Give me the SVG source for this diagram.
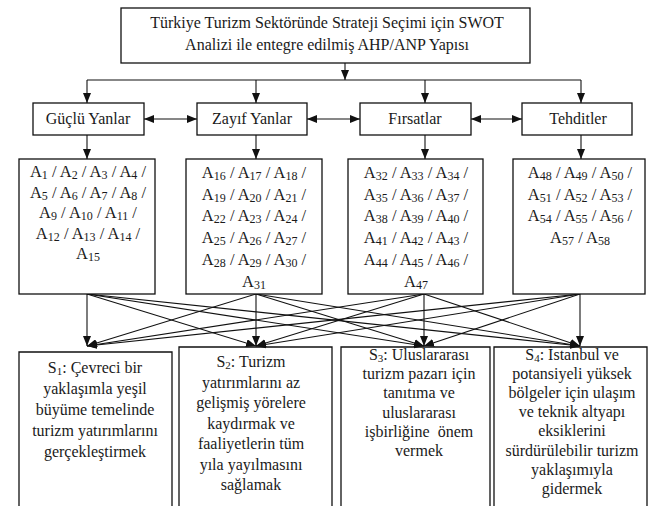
<svg xmlns="http://www.w3.org/2000/svg" width="649" height="506" viewBox="0 0 649 506">
<defs>
<style>
.box{fill:#fff;stroke:#111;stroke-width:1.3}
.open{fill:none;stroke:#111;stroke-width:1.3}
text{font-family:"Liberation Serif","Times New Roman",serif;font-size:16px;fill:#1a1a1a;text-anchor:middle}
text.a{font-size:16.5px}
.s{font-size:11px;baseline-shift:-2px}
text.a .s{font-size:12px}
.c{fill:none;stroke:#111;stroke-width:1.1;marker-end:url(#ah)}
.d{fill:none;stroke:#111;stroke-width:1.1;marker-end:url(#ah);marker-start:url(#ah)}
</style>
<marker id="ah" viewBox="0 0 10 8" refX="10" refY="4" markerWidth="10" markerHeight="8" markerUnits="userSpaceOnUse" orient="auto-start-reverse">
<path d="M0,0 L10,4 L0,8 z" fill="#111"/>
</marker>
</defs>
<rect width="649" height="506" fill="#fff"/>

<g id="connectors">
<line class="c" x1="345" y1="63" x2="345" y2="80"/>
<polyline fill="none" stroke="#111" stroke-width="1.1" points="87,80 581,80"/>
<line class="c" x1="87" y1="80" x2="87" y2="103"/>
<line class="c" x1="256" y1="80" x2="256" y2="103"/>
<line class="c" x1="425" y1="80" x2="425" y2="103"/>
<line class="c" x1="581" y1="80" x2="581" y2="103"/>
<line class="d" x1="144" y1="119" x2="197" y2="119"/>
<line class="d" x1="307" y1="119" x2="360" y2="119"/>
<line class="d" x1="471" y1="119" x2="522" y2="119"/>
<line class="c" x1="87" y1="135" x2="87" y2="159"/>
<line class="c" x1="256" y1="135" x2="256" y2="159"/>
<line class="c" x1="425" y1="135" x2="425" y2="159"/>
<line class="c" x1="581" y1="135" x2="581" y2="159"/>
<line class="c" x1="87" y1="294" x2="87" y2="346"/>
<line class="c" x1="87" y1="294" x2="256" y2="346"/>
<line class="c" x1="87" y1="294" x2="424" y2="346"/>
<line class="c" x1="87" y1="294" x2="580" y2="346"/>
<line class="c" x1="256" y1="294" x2="87" y2="346"/>
<line class="c" x1="256" y1="294" x2="256" y2="346"/>
<line class="c" x1="256" y1="294" x2="424" y2="346"/>
<line class="c" x1="256" y1="294" x2="580" y2="346"/>
<line class="c" x1="424" y1="294" x2="87" y2="346"/>
<line class="c" x1="424" y1="294" x2="256" y2="346"/>
<line class="c" x1="424" y1="294" x2="424" y2="346"/>
<line class="c" x1="424" y1="294" x2="580" y2="346"/>
<line class="c" x1="580" y1="294" x2="87" y2="346"/>
<line class="c" x1="580" y1="294" x2="256" y2="346"/>
<line class="c" x1="580" y1="294" x2="424" y2="346"/>
<line class="c" x1="580" y1="294" x2="580" y2="346"/>
</g>

<g id="goal">
<rect class="box" x="121" y="8" width="409" height="55"/>
<text x="327" y="28">Türkiye Turizm Sektöründe Strateji Seçimi için SWOT</text>
<text x="327" y="50">Analizi ile entegre edilmiş AHP/ANP Yapısı</text>
</g>

<g id="strengths">
<rect class="box" x="33" y="103" width="111" height="32"/>
<text x="88" y="124">Güçlü Yanlar</text>
</g>
<g id="weaknesses">
<rect class="box" x="197" y="103" width="110" height="32"/>
<text x="252" y="124">Zayıf Yanlar</text>
</g>
<g id="opportunities">
<rect class="box" x="360" y="103" width="111" height="32"/>
<text x="415" y="124">Fırsatlar</text>
</g>
<g id="threats">
<rect class="box" x="522" y="103" width="110" height="32"/>
<text x="578" y="124">Tehditler</text>
</g>

<g id="a-strengths">
<rect class="box" x="19" y="159" width="136" height="135"/>
<text class="a" x="88" y="177">A<tspan class="s">1</tspan> / A<tspan class="s">2</tspan> / A<tspan class="s">3</tspan> / A<tspan class="s">4</tspan> /</text>
<text class="a" x="88" y="197.5">A<tspan class="s">5</tspan> / A<tspan class="s">6</tspan> / A<tspan class="s">7</tspan> / A<tspan class="s">8</tspan> /</text>
<text class="a" x="88" y="218">A<tspan class="s">9</tspan> / A<tspan class="s">10</tspan> / A<tspan class="s">11</tspan> /</text>
<text class="a" x="88" y="238.5">A<tspan class="s">12</tspan> / A<tspan class="s">13</tspan> / A<tspan class="s">14</tspan> /</text>
<text class="a" x="88" y="259">A<tspan class="s">15</tspan></text>
</g>
<g id="a-weaknesses">
<rect class="box" x="186" y="159" width="136" height="135"/>
<text class="a" x="254" y="178">A<tspan class="s">16</tspan> / A<tspan class="s">17</tspan> / A<tspan class="s">18</tspan> /</text>
<text class="a" x="254" y="199.7">A<tspan class="s">19</tspan> / A<tspan class="s">20</tspan> / A<tspan class="s">21</tspan> /</text>
<text class="a" x="254" y="221.4">A<tspan class="s">22</tspan> / A<tspan class="s">23</tspan> / A<tspan class="s">24</tspan> /</text>
<text class="a" x="254" y="243.1">A<tspan class="s">25</tspan> / A<tspan class="s">26</tspan> / A<tspan class="s">27</tspan> /</text>
<text class="a" x="254" y="264.8">A<tspan class="s">28</tspan> / A<tspan class="s">29</tspan> / A<tspan class="s">30</tspan> /</text>
<text class="a" x="254" y="286.5">A<tspan class="s">31</tspan></text>
</g>
<g id="a-opportunities">
<rect class="box" x="348" y="159" width="135" height="135"/>
<text class="a" x="416" y="178">A<tspan class="s">32</tspan> / A<tspan class="s">33</tspan> / A<tspan class="s">34</tspan> /</text>
<text class="a" x="416" y="199.7">A<tspan class="s">35</tspan> / A<tspan class="s">36</tspan> / A<tspan class="s">37</tspan> /</text>
<text class="a" x="416" y="221.4">A<tspan class="s">38</tspan> / A<tspan class="s">39</tspan> / A<tspan class="s">40</tspan> /</text>
<text class="a" x="416" y="243.1">A<tspan class="s">41</tspan> / A<tspan class="s">42</tspan> / A<tspan class="s">43</tspan> /</text>
<text class="a" x="416" y="264.8">A<tspan class="s">44</tspan> / A<tspan class="s">45</tspan> / A<tspan class="s">46</tspan> /</text>
<text class="a" x="416" y="286.5">A<tspan class="s">47</tspan></text>
</g>
<g id="a-threats">
<rect class="box" x="513" y="159" width="132" height="135"/>
<text class="a" x="580" y="178">A<tspan class="s">48</tspan> / A<tspan class="s">49</tspan> / A<tspan class="s">50</tspan> /</text>
<text class="a" x="580" y="199.7">A<tspan class="s">51</tspan> / A<tspan class="s">52</tspan> / A<tspan class="s">53</tspan> /</text>
<text class="a" x="580" y="221.4">A<tspan class="s">54</tspan> / A<tspan class="s">55</tspan> / A<tspan class="s">56</tspan> /</text>
<text class="a" x="580" y="243.1">A<tspan class="s">57</tspan> / A<tspan class="s">58</tspan></text>
</g>

<g id="s1">
<path class="open" d="M19,507 V352 H172 V507"/>
<text x="95" y="373">S<tspan class="s">1</tspan>: Çevreci bir</text>
<text x="95" y="394">yaklaşımla yeşil</text>
<text x="95" y="415">büyüme temelinde</text>
<text x="95" y="436">turizm yatırımlarını</text>
<text x="95" y="457">gerçekleştirmek</text>
</g>
<g id="s2">
<path class="open" d="M179,507 V347 H332 V507"/>
<text x="251" y="367">S<tspan class="s">2</tspan>: Turizm</text>
<text x="251" y="387.5">yatırımlarını az</text>
<text x="251" y="408">gelişmiş yörelere</text>
<text x="251" y="428.5">kaydırmak ve</text>
<text x="251" y="449">faaliyetlerin tüm</text>
<text x="251" y="469.5">yıla yayılmasını</text>
<text x="251" y="490">sağlamak</text>
</g>
<g id="s3">
<path class="open" d="M341,507 V347 H490 V507"/>
<text x="419" y="360">S<tspan class="s">3</tspan>: Uluslararası</text>
<text x="419" y="379.2">turizm pazarı için</text>
<text x="419" y="398.4">tanıtıma ve</text>
<text x="419" y="417.6">uluslararası</text>
<text x="419" y="436.8" xml:space="preserve">işbirliğine  önem</text>
<text x="419" y="456">vermek</text>
</g>
<g id="s4">
<path class="open" d="M494,507 V347 H647 V507"/>
<text x="572" y="360">S<tspan class="s">4</tspan>: İstanbul ve</text>
<text x="572" y="379.1">potansiyeli yüksek</text>
<text x="572" y="398.2">bölgeler için ulaşım</text>
<text x="572" y="417.3">ve teknik altyapı</text>
<text x="572" y="436.4">eksiklerini</text>
<text x="572" y="455.5">sürdürülebilir turizm</text>
<text x="572" y="474.6">yaklaşımıyla</text>
<text x="572" y="493.7">gidermek</text>
</g>
</svg>
